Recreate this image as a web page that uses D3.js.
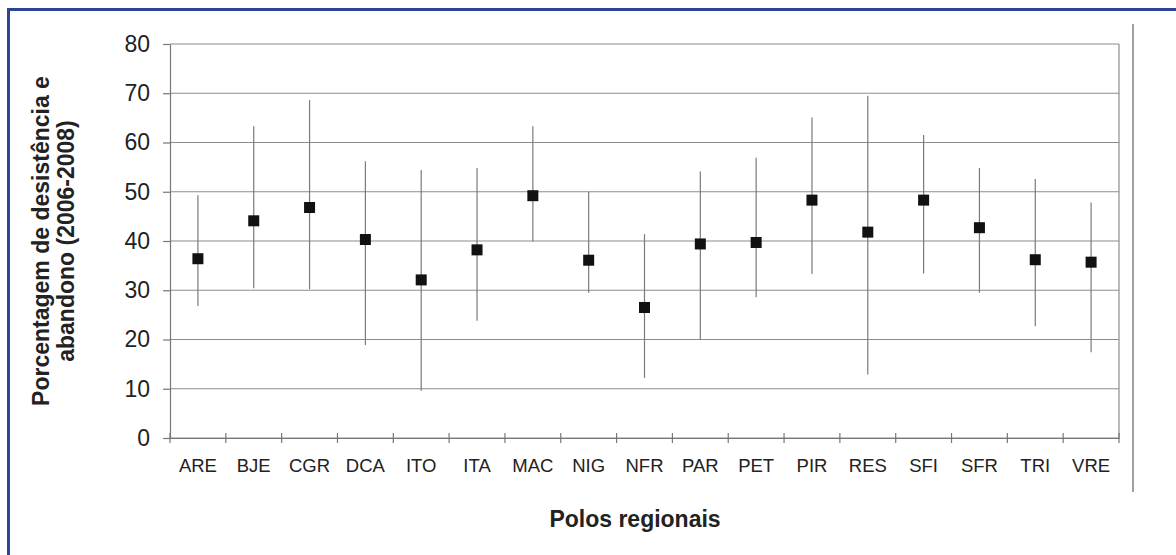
<!DOCTYPE html>
<html>
<head>
<meta charset="utf-8">
<script src="https://cdn.jsdelivr.net/npm/d3@7"></script>
<style>
    body { margin: 0; background: #fff; }
    svg { display: block; font-family: "Liberation Sans", Arial, sans-serif; }
</style>
</head>
<body>
<script>
// Polos regionais
var categories = ['ARE', 'BJE', 'CGR', 'DCA', 'ITO', 'ITA', 'MAC', 'NIG', 'NFR',
    'PAR', 'PET', 'PIR', 'RES', 'SFI', 'SFR', 'TRI', 'VRE'];

// percentage values
var meanValues = [36.4, 44.1, 46.8, 40.3, 32.1, 38.2, 49.2, 36.1, 26.5,
    39.4, 39.7, 48.3, 41.8, 48.3, 42.7, 36.2, 35.7];
var upperValues = [49.3, 63.3, 68.6, 56.2, 54.4, 54.8, 63.3, 50.0, 41.4,
    54.1, 56.9, 65.1, 69.5, 61.5, 54.8, 52.6, 47.8];
var lowerValues = [26.8, 30.4, 30.2, 18.9, 9.6, 23.8, 39.9, 29.5, 12.2,
    19.9, 28.6, 33.3, 12.9, 33.4, 29.5, 22.7, 17.4];

var yTicks = [0, 10, 20, 30, 40, 50, 60, 70, 80];

var svgWidth = 1176;
var svgHeight = 555;
var plotLeft = 170, plotRight = 1119, plotTop = 44, plotBottom = 438;

var svg = d3.select('body').append('svg')
    .attr('width', svgWidth)
    .attr('height', svgHeight);

// blue frame round the figure
svg.append('rect')
    .attr('x', 8.5).attr('y', 9.5)
    .attr('width', svgWidth).attr('height', svgHeight)
    .attr('fill', 'none')
    .attr('stroke', '#2d4597')
    .attr('stroke-width', 3);

// grey separator at the right
svg.append('line')
    .attr('x1', 1133).attr('x2', 1133)
    .attr('y1', 24).attr('y2', 492)
    .attr('stroke', '#a0a0a0')
    .attr('stroke-width', 2);

var x = d3.scaleBand()
    .domain(categories)
    .range([plotLeft, plotRight])
    .padding(0);

var y = d3.scaleLinear()
    .domain([0, 80])
    .range([plotBottom, plotTop]);

// horizontal grid lines
svg.append('g')
    .selectAll('line')
    .data(yTicks)
    .enter()
    .append('line')
    .attr('x1', plotLeft)
    .attr('x2', plotRight)
    .attr('y1', function (d) { return y(d); })
    .attr('y2', function (d) { return y(d); })
    .attr('stroke', '#8c8c8c')
    .attr('stroke-width', 1.2);

// right border of plot area
svg.append('line')
    .attr('x1', plotRight).attr('x2', plotRight)
    .attr('y1', plotTop).attr('y2', plotBottom)
    .attr('stroke', '#8c8c8c')
    .attr('stroke-width', 1.2);

// y axis
var yAxis = svg.append('g')
    .attr('transform', 'translate(' + plotLeft + ',0)')
    .call(d3.axisLeft(y).tickValues(yTicks).tickSize(7).tickSizeOuter(0).tickPadding(13));
yAxis.select('.domain').attr('stroke', '#777').attr('stroke-width', 1.2);
yAxis.selectAll('.tick line').attr('stroke', '#777').attr('stroke-width', 1.2);
yAxis.selectAll('text')
    .attr('font-size', 23)
    .attr('fill', '#222')
    .style('font-family', '"Liberation Sans", Arial, sans-serif');

// x axis, labels in the middle of each band
var xAxis = svg.append('g')
    .attr('transform', 'translate(0,' + plotBottom + ')')
    .call(d3.axisBottom(x).tickSize(0).tickPadding(21));
xAxis.select('.domain').attr('stroke', '#777').attr('stroke-width', 1.2);
xAxis.selectAll('text')
    .attr('font-size', 18.5)
    .attr('fill', '#222')
    .style('font-family', '"Liberation Sans", Arial, sans-serif');

// tick marks between the bands
var boundaries = categories.map(function (c) { return x(c); }).concat([plotRight]);
svg.append('g')
    .selectAll('line')
    .data(boundaries)
    .enter()
    .append('line')
    .attr('x1', function (d) { return d; })
    .attr('x2', function (d) { return d; })
    .attr('y1', plotBottom - 5)
    .attr('y2', plotBottom + 5)
    .attr('stroke', '#777')
    .attr('stroke-width', 1.2);

// error bars
var half = x.bandwidth() / 2;
svg.append('g')
    .selectAll('line')
    .data(categories)
    .enter()
    .append('line')
    .attr('x1', function (d) { return x(d) + half; })
    .attr('x2', function (d) { return x(d) + half; })
    .attr('y1', function (d, i) { return y(upperValues[i]); })
    .attr('y2', function (d, i) { return y(lowerValues[i]); })
    .attr('stroke', '#7a7a7a')
    .attr('stroke-width', 1.2);

// square markers
var markerSize = 11;
svg.append('g')
    .selectAll('rect')
    .data(categories)
    .enter()
    .append('rect')
    .attr('x', function (d) { return x(d) + half - markerSize / 2; })
    .attr('y', function (d, i) { return y(meanValues[i]) - markerSize / 2; })
    .attr('width', markerSize)
    .attr('height', markerSize)
    .attr('fill', '#111');

// axis titles
svg.append('text')
    .attr('transform', 'translate(635,527)')
    .attr('text-anchor', 'middle')
    .attr('font-size', 23)
    .attr('font-weight', 'bold')
    .attr('fill', '#222')
    .text('Polos regionais');

var yTitle = svg.append('text')
    .attr('transform', 'translate(49,241) rotate(-90)')
    .attr('text-anchor', 'middle')
    .attr('font-size', 23)
    .attr('font-weight', 'bold')
    .attr('fill', '#222');
yTitle.append('tspan').attr('x', 0).attr('y', 0).text('Porcentagem de desistência e');
yTitle.append('tspan').attr('x', 0).attr('y', 25).text('abandono (2006-2008)');
</script>
</body>
</html>
